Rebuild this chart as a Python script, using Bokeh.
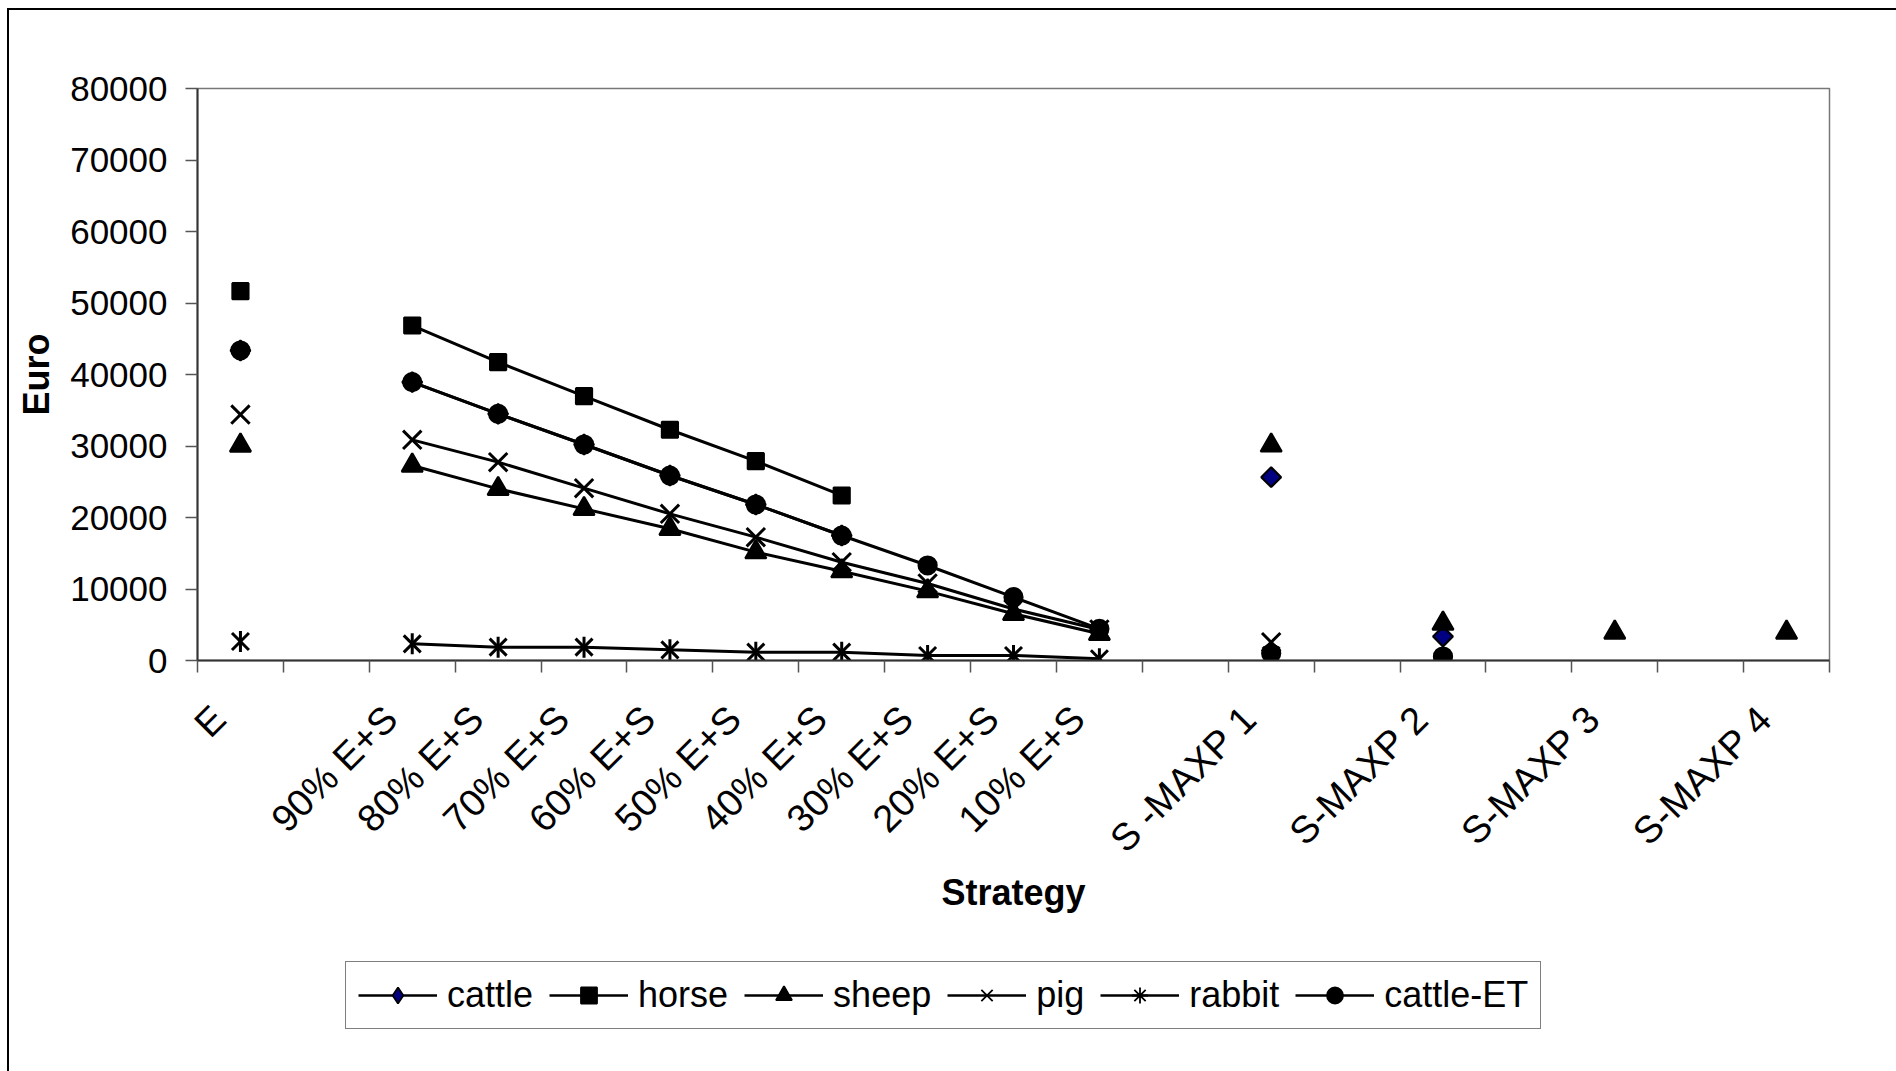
import math
from bokeh.plotting import figure
from bokeh.layouts import column
from bokeh.models import (FixedTicker, Range1d, Legend, LegendItem, ColumnDataSource)
from bokeh.embed import file_html
from bokeh.resources import INLINE

nan = float("nan")

categories = ["E", "", "90% E+S", "80% E+S", "70% E+S", "60% E+S", "50% E+S",
              "40% E+S", "30% E+S", "20% E+S", "10% E+S", "", "S -MAXP 1", "",
              "S-MAXP 2", "", "S-MAXP 3", "", "S-MAXP 4"]

cattle = [43360, nan, 38930, 34500, 30210, 25870, 21820, 17480, nan, nan, nan,
          nan, 25640, nan, 3360, nan, nan, nan, nan]
horse = [51650, nan, 46850, 41720, 36970, 32270, 27880, 23080, nan, nan, nan,
         nan, nan, nan, nan, nan, nan, nan, nan]
sheep = [30070, nan, 27270, 24010, 21210, 18420, 15150, 12490, 9700, 6530, 3730,
         nan, 30080, nan, 5175, nan, 3920, nan, 3920]
pig = [34400, nan, 30860, 27740, 24100, 20510, 17250, 13750, 10770, 7200, 4340,
       nan, 2560, nan, nan, nan, nan, nan, nan]
rabbit = [2660, nan, 2330, 1870, 1870, 1490, 1170, 1170, 700, 700, 240,
          nan, 700, nan, nan, nan, nan, nan, nan]
cattle_et = [43360, nan, 38930, 34500, 30210, 25870, 21820, 17480, 13290, 8860, 4430,
             nan, 980, nan, 560, nan, nan, nan, nan]

series_names = ["cattle", "horse", "sheep", "pig", "rabbit", "cattle-ET"]
y_ticks = [0, 10000, 20000, 30000, 40000, 50000, 60000, 70000, 80000]

FONT = "Liberation Sans"
xs = list(range(len(categories)))

W = 1896
H1 = 940
H2 = 1071 - H1

p = figure(width=W, height=H1, output_backend="svg", toolbar_location=None,
           x_range=Range1d(-0.5, len(categories) - 0.5), y_range=Range1d(0, 80000),
           min_border_left=197, min_border_right=67, min_border_top=88,
           min_border_bottom=H1 - 660, background_fill_color="white",
           border_fill_color=None)
# outer chart-area frame (left and top edges), drawn behind the transparent canvas
p.styles = {
    "background-color": "white",
    "background-image": "linear-gradient(#000, #000), linear-gradient(#000, #000)",
    "background-size": "2px 100%, 100% 2px",
    "background-position": "7px 8px, 7px 8px",
    "background-repeat": "no-repeat",
}
p.xgrid.visible = False
p.ygrid.visible = False
p.outline_line_color = "#777777"
p.outline_line_width = 1.5

# legend strip below the chart; its ranges show none of the series, only the legend
q = figure(width=W, height=H2, output_backend="svg", toolbar_location=None,
           x_range=Range1d(-0.5, len(categories) - 0.5), y_range=Range1d(-2, -1),
           x_axis_location=None, y_axis_location=None, min_border=0,
           background_fill_color=None, border_fill_color=None)
q.styles = {
    "background-color": "white",
    "background-image": "linear-gradient(#000, #000)",
    "background-size": "2px 100%",
    "background-position": "7px 0px",
    "background-repeat": "no-repeat",
}
q.outline_line_color = None
q.grid.visible = False

styles = {
    "cattle": dict(marker="square", size=14, fill="#000080", angle=math.pi / 4, lw=2.2, extra=None),
    "horse": dict(marker="square", size=16, fill="black", angle=0.0, lw=2.2, extra=None),
    "sheep": dict(marker="triangle", size=21, fill="black", angle=0.0, lw=2.2, extra=None),
    "pig": dict(marker="x", size=26, fill="black", angle=0.0, lw=3, extra=None),
    "rabbit": dict(marker="x", size=24, fill="black", angle=0.0, lw=3,
                   extra=("dash", 21, math.pi / 2)),
    "cattle-ET": dict(marker="circle", size=18, fill="black", angle=0.0, lw=2.2, extra=None),
}
# legend swatches (the legend does not rotate markers)
legend_styles = dict(styles)
legend_styles["cattle"] = dict(styles["cattle"], marker="diamond", angle=0.0)
legend_styles["rabbit"] = dict(styles["rabbit"], marker="asterisk", extra=None)

values = {"cattle": cattle, "horse": horse, "sheep": sheep, "pig": pig,
          "rabbit": rabbit, "cattle-ET": cattle_et}


def draw(fig, src, st, lw_line=3.0, lw_marker=None):
    lwm = st["lw"] if lw_marker is None else lw_marker
    ln = fig.line("x", "y", source=src, line_color="black", line_width=lw_line)
    sc = fig.scatter("x", "y", source=src, marker=st["marker"], size=st["size"],
                     angle=st["angle"], fill_color=st["fill"], line_color="black",
                     line_width=lwm)
    rs = [ln, sc]
    if st["extra"] is not None:
        m2, s2, a2 = st["extra"]
        rs.append(fig.scatter("x", "y", source=src, marker=m2, size=s2, angle=a2,
                              line_color="black", line_width=lwm))
    return rs


items = []
for name in series_names:
    draw(p, ColumnDataSource(dict(x=xs, y=values[name])), styles[name])
    leg_rs = draw(q, ColumnDataSource(dict(x=xs, y=values[name])), legend_styles[name],
                  lw_line=2.5, lw_marker=1.8)
    items.append(LegendItem(label=name, renderers=leg_rs))

# y axis
ya = p.yaxis[0]
ya.ticker = FixedTicker(ticks=y_ticks)
ya.major_label_text_font = FONT
ya.major_label_text_font_size = "35px"
ya.major_label_text_color = "black"
ya.major_tick_out = 12
ya.major_tick_in = 0
ya.minor_tick_out = 0
ya.minor_tick_in = 0
ya.major_label_standoff = 18
ya.axis_line_color = "#333333"
ya.axis_line_width = 2
ya.major_tick_line_color = "#555555"
ya.major_tick_line_width = 1.5
ya.axis_label = "Euro"
ya.axis_label_text_font = FONT
ya.axis_label_text_font_style = "bold"
ya.axis_label_text_font_size = "36px"
ya.axis_label_text_color = "black"
ya.axis_label_standoff = 10

# x axis: label anchors a little left of each category centre (as in the
# reference); invisible major ticks, minor ticks mark the category boundaries
labelled = [i for i, c in enumerate(categories) if c]
label_pos = [i - 0.25 for i in labelled]
xa = p.xaxis[0]
xa.ticker = FixedTicker(ticks=label_pos,
                        minor_ticks=[i - 0.5 for i in range(len(categories) + 1)])
xa.major_label_overrides = {i - 0.25: categories[i] for i in labelled}
xa.major_label_orientation = math.pi / 4
xa.major_label_text_font = FONT
xa.major_label_text_font_size = "38px"
xa.major_label_text_color = "black"
xa.major_tick_out = 0
xa.major_tick_in = 0
xa.minor_tick_out = 12
xa.minor_tick_in = 0
xa.minor_tick_line_color = "#555555"
xa.minor_tick_line_width = 1.5
xa.major_label_standoff = 40
xa.axis_line_color = "#333333"
xa.axis_line_width = 2
xa.axis_label = "Strategy"
xa.axis_label_text_font = FONT
xa.axis_label_text_font_style = "bold"
xa.axis_label_text_font_size = "36px"
xa.axis_label_text_color = "black"
xa.axis_label_standoff = -6

# the column aligns both frames, so x is measured from the chart frame's left edge
legend = Legend(items=items, orientation="horizontal", location=(345 - 197, 1071 - 1029),
                label_text_font=FONT, label_text_font_size="36px",
                label_text_color="black",
                glyph_width=79, glyph_height=40, label_standoff=10, spacing=16,
                padding=12, margin=0, border_line_color="black",
                border_line_width=1.5, background_fill_color="white",
                background_fill_alpha=1.0)
q.add_layout(legend, "center")

layout = column(p, q, spacing=0)
open("out.html", "w").write(file_html(layout, INLINE))
